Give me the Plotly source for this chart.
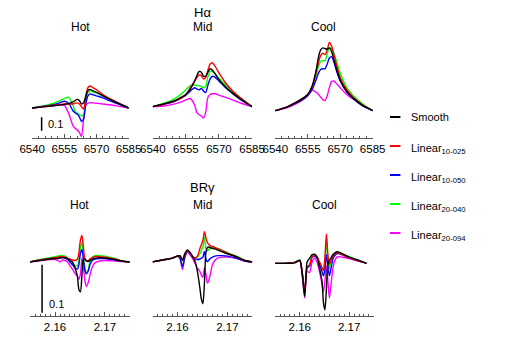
import plotly.graph_objects as go

# wavelength grids (Angstrom for H-alpha, micron for Br-gamma)
HA_X = [6540, 6545, 6550, 6553, 6555, 6557, 6559, 6560, 6561, 6562, 6563,
        6564, 6565, 6566, 6567, 6568, 6570, 6573, 6576, 6580, 6585]
BR_X = [2.155, 2.157, 2.159, 2.160, 2.1605, 2.161, 2.1615, 2.162, 2.1625,
        2.163, 2.1635, 2.164, 2.1645, 2.1648, 2.1651, 2.1654, 2.1657, 2.166,
        2.1663, 2.1667, 2.167, 2.1675, 2.168, 2.169, 2.170, 2.172, 2.1735, 2.175]

# H-alpha, relative flux (continuum = 0)
HA_HOT_SMOOTH = [0, 0.008, 0.017, 0.023, 0.027, 0.032, 0.045, 0.055, 0.064, 0.055, 0.03,
                 0.04, 0.085, 0.13, 0.138, 0.13, 0.115, 0.09, 0.065, 0.035, 0]
HA_HOT_L1025 = [0, 0.01, 0.02, 0.027, 0.03, 0.03, 0.03, 0.035, 0.038, 0.03, 0.01,
                -0.008, 0.09, 0.15, 0.163, 0.155, 0.135, 0.1, 0.072, 0.04, 0]
HA_HOT_L1050 = [0, 0.012, 0.025, 0.04, 0.05, 0.035, -0.02, -0.035, -0.045, -0.065, -0.1,
                -0.08, 0.03, 0.09, 0.104, 0.1, 0.09, 0.075, 0.055, 0.03, 0]
HA_HOT_L2040 = [0, 0.015, 0.035, 0.055, 0.07, 0.08, 0.02, -0.025, -0.04, -0.05, -0.058,
                -0.05, 0.06, 0.115, 0.128, 0.122, 0.112, 0.09, 0.068, 0.038, 0]
HA_HOT_L2094 = [0, 0.008, 0.018, 0.022, 0.02, -0.04, -0.13, -0.15, -0.162, -0.18, -0.21,
                -0.08, 0.02, 0.035, 0.04, 0.038, 0.035, 0.03, 0.024, 0.014, 0]

HA_MID_SMOOTH = [0.01, 0.03, 0.055, 0.08, 0.1, 0.14, 0.2, 0.24, 0.27, 0.265, 0.235,
                 0.235, 0.265, 0.29, 0.28, 0.26, 0.21, 0.155, 0.112, 0.063, 0.01]
HA_MID_L1025 = [0.01, 0.028, 0.052, 0.075, 0.1, 0.15, 0.2, 0.225, 0.245, 0.24, 0.215,
                0.225, 0.28, 0.325, 0.335, 0.315, 0.26, 0.185, 0.13, 0.072, 0.01]
HA_MID_L1050 = [0.01, 0.028, 0.05, 0.075, 0.095, 0.125, 0.15, 0.14, 0.135, 0.145, 0.125,
                0.115, 0.17, 0.215, 0.235, 0.23, 0.2, 0.15, 0.11, 0.06, 0.01]
HA_MID_L2040 = [0.01, 0.035, 0.07, 0.105, 0.135, 0.165, 0.17, 0.165, 0.165, 0.16, 0.15,
                0.16, 0.23, 0.27, 0.27, 0.255, 0.22, 0.17, 0.125, 0.072, 0.01]
HA_MID_L2094 = [0.01, 0.015, 0.03, 0.045, 0.06, 0.07, 0.02, -0.035, -0.05, -0.058, -0.075,
                -0.03, 0.08, 0.1, 0.105, 0.105, 0.095, 0.078, 0.06, 0.035, 0.01]

HA_COOL_SMOOTH = [-0.02, 0.005, 0.045, 0.075, 0.1, 0.16, 0.29, 0.38, 0.43, 0.445, 0.44,
                  0.435, 0.445, 0.42, 0.36, 0.305, 0.207, 0.122, 0.073, 0.023, -0.02]
HA_COOL_L1025 = [-0.02, 0.005, 0.045, 0.075, 0.1, 0.155, 0.27, 0.34, 0.39, 0.405, 0.395,
                 0.43, 0.485, 0.46, 0.4, 0.335, 0.225, 0.135, 0.08, 0.028, -0.02]
HA_COOL_L1050 = [-0.02, 0.005, 0.04, 0.065, 0.09, 0.135, 0.215, 0.26, 0.285, 0.29, 0.29,
                 0.325, 0.37, 0.38, 0.345, 0.29, 0.2, 0.12, 0.07, 0.02, -0.02]
HA_COOL_L2040 = [-0.02, 0.005, 0.045, 0.075, 0.1, 0.155, 0.25, 0.31, 0.345, 0.35, 0.35,
                 0.4, 0.445, 0.44, 0.41, 0.36, 0.26, 0.15, 0.09, 0.035, -0.02]
HA_COOL_L2094 = [-0.02, 0.0, 0.035, 0.065, 0.1, 0.13, 0.115, 0.1, 0.08, 0.062, 0.055,
                 0.09, 0.15, 0.195, 0.2, 0.185, 0.15, 0.1, 0.065, 0.025, -0.02]

# Br-gamma, relative flux
BR_HOT_SMOOTH = [0, 0.003, 0.006, 0.007, 0.007, 0.008, 0.009, 0.009, 0.007, 0.003, 0.0,
                 -0.012, -0.03, -0.058, -0.062, -0.027, 0.005, 0.006, 0.002, 0.001, 0.003,
                 0.006, 0.008, 0.009, 0.008, 0.005, 0.002, 0]
BR_HOT_L1025 = [0, 0.004, 0.007, 0.009, 0.01, 0.011, 0.011, 0.01, 0.008, 0.006, 0.004,
                0.003, 0.006, 0.02, 0.045, 0.055, 0.03, 0.006, 0.002, 0.003, 0.006,
                0.009, 0.011, 0.011, 0.01, 0.006, 0.002, 0]
BR_HOT_L1050 = [0, 0.004, 0.007, 0.008, 0.008, 0.009, 0.009, 0.008, 0.005, 0.0, -0.006,
                -0.012, -0.015, -0.005, 0.018, 0.026, 0.005, -0.018, -0.025, -0.018, -0.006,
                0.003, 0.006, 0.007, 0.007, 0.004, 0.001, 0]
BR_HOT_L2040 = [0, 0.005, 0.009, 0.011, 0.012, 0.013, 0.013, 0.012, 0.008, 0.002, -0.004,
                -0.008, -0.008, 0.005, 0.03, 0.04, 0.015, -0.012, -0.023, -0.015, 0.0,
                0.01, 0.013, 0.013, 0.012, 0.007, 0.002, 0]
BR_HOT_L2094 = [0, 0.003, 0.005, 0.005, 0.003, 0.0, 0.004, 0.003, 0.0, -0.008, -0.015,
                -0.024, -0.03, -0.036, -0.025, 0.008, -0.01, -0.04, -0.051, -0.042, -0.028,
                -0.01, -0.002, 0.002, 0.003, 0.002, 0.001, 0]

BR_MID_SMOOTH = [0, 0.004, 0.008, 0.012, 0.013, 0.004, 0.018, 0.025, 0.02, 0.011, 0.002,
                 -0.02, -0.055, -0.078, -0.087, -0.045, 0.02, 0.03, 0.031, 0.029, 0.028,
                 0.027, 0.025, 0.021, 0.017, 0.01, 0.003, 0.0]
BR_MID_L1025 = [0, 0.004, 0.008, 0.012, 0.012, 0.003, 0.017, 0.024, 0.019, 0.012, 0.008,
                0.012, 0.028, 0.036, 0.045, 0.063, 0.05, 0.04, 0.036, 0.033, 0.032,
                0.03, 0.028, 0.023, 0.018, 0.01, 0.003, 0.0]
BR_MID_L1050 = [0, 0.004, 0.008, 0.012, 0.008, -0.01, 0.012, 0.023, 0.019, 0.011, 0.007,
                0.005, 0.006, 0.008, 0.01, 0.022, 0.006, 0.0, 0.004, 0.008, 0.01,
                0.012, 0.013, 0.013, 0.012, 0.007, 0.002, 0.0]
BR_MID_L2040 = [0, 0.004, 0.008, 0.012, 0.008, -0.01, 0.012, 0.023, 0.019, 0.012, 0.008,
                0.01, 0.017, 0.024, 0.032, 0.052, 0.028, 0.023, 0.026, 0.029, 0.03,
                0.029, 0.028, 0.024, 0.019, 0.011, 0.003, 0.0]
BR_MID_L2094 = [0, 0.004, 0.008, 0.012, 0.006, -0.016, 0.01, 0.02, 0.015, 0.008, -0.003,
                -0.013, -0.02, -0.028, -0.032, -0.012, -0.025, -0.044, -0.038, -0.02, -0.006,
                0.003, 0.008, 0.01, 0.01, 0.007, 0.002, 0.0]

BR_COOL_SMOOTH = [-0.003, -0.003, -0.002, 0.003, -0.025, -0.072, 0.0, 0.008, 0.015, 0.016, 0.01,
                  -0.013, -0.04, -0.085, -0.1, -0.055, -0.005, 0.004, 0.008, 0.015, 0.018,
                  0.021, 0.02, 0.015, 0.01, 0.003, -0.003, None]
BR_COOL_L1025 = [-0.003, -0.003, -0.001, 0.003, -0.022, -0.065, -0.01, -0.006, 0.011, 0.013, 0.01,
                 0.0, -0.012, -0.018, 0.01, 0.058, 0.015, -0.005, 0.003, 0.012, 0.016,
                 0.019, 0.018, 0.013, 0.009, 0.002, -0.003, None]
BR_COOL_L1050 = [-0.003, -0.003, -0.001, 0.003, -0.022, -0.065, -0.012, -0.008, 0.01, 0.012, 0.008,
                 -0.005, -0.02, -0.029, -0.015, 0.015, -0.01, -0.029, -0.015, 0.005, 0.012,
                 0.017, 0.017, 0.013, 0.009, 0.002, -0.003, None]
BR_COOL_L2040 = [-0.003, -0.003, -0.001, 0.004, -0.022, -0.065, -0.012, -0.008, 0.011, 0.013, 0.01,
                 -0.002, -0.012, -0.017, 0.005, 0.04, 0.005, -0.014, -0.002, 0.01, 0.016,
                 0.02, 0.02, 0.015, 0.011, 0.003, -0.003, None]
BR_COOL_L2094 = [-0.003, -0.003, -0.001, 0.002, -0.028, -0.075, -0.02, -0.022, 0.0, 0.008, 0.0,
                 -0.02, -0.045, -0.062, -0.04, -0.008, -0.04, -0.075, -0.05, -0.015, 0.0,
                 0.01, 0.011, 0.009, 0.007, 0.001, -0.003, None]

SERIES = ["Smooth", "Linear<sub>10-025</sub>", "Linear<sub>10-050</sub>",
          "Linear<sub>20-040</sub>", "Linear<sub>20-094</sub>"]
COLORS = ["#000000", "#ff0000", "#0000ff", "#00ff00", "#ff00ff"]

PANELS = [
    ("Hot", HA_X, [HA_HOT_SMOOTH, HA_HOT_L1025, HA_HOT_L1050, HA_HOT_L2040, HA_HOT_L2094]),
    ("Mid", HA_X, [HA_MID_SMOOTH, HA_MID_L1025, HA_MID_L1050, HA_MID_L2040, HA_MID_L2094]),
    ("Cool", HA_X, [HA_COOL_SMOOTH, HA_COOL_L1025, HA_COOL_L1050, HA_COOL_L2040, HA_COOL_L2094]),
    ("Hot", BR_X, [BR_HOT_SMOOTH, BR_HOT_L1025, BR_HOT_L1050, BR_HOT_L2040, BR_HOT_L2094]),
    ("Mid", BR_X, [BR_MID_SMOOTH, BR_MID_L1025, BR_MID_L1050, BR_MID_L2040, BR_MID_L2094]),
    ("Cool", BR_X, [BR_COOL_SMOOTH, BR_COOL_L1025, BR_COOL_L1050, BR_COOL_L2040, BR_COOL_L2094]),
]

W, H = 515, 354
FONT = "Liberation Sans"
AX = "#555555"

# panel placement in pixels
X_PX = [(20, 122), (147, 252), (276, 379), (18, 123), (147, 252), (276, 380)]
Y_PX_TOP = (138, 35)
Y_PX_BOT = (316, 222)


def px_x(p):
    return p / W


def px_y(p):
    return 1 - p / H


fig = go.Figure()
layout = {}

for i, (name, xs, series) in enumerate(PANELS):
    n = i + 1
    top = i < 3
    # black drawn last so it sits on top
    for k in reversed(range(5)):
        fig.add_trace(go.Scatter(
            x=xs, y=series[k], mode="lines",
            line=dict(color=COLORS[k], width=1.4, shape="spline", smoothing=0.7),
            name=SERIES[k], showlegend=False,
            xaxis=f"x{n}", yaxis=f"y{n}",
            hovertemplate="%{x}<br>%{y:.3f}<extra>" + SERIES[k] + "</extra>",
        ))

    x0, x1 = X_PX[i]
    yb, yt = Y_PX_TOP if top else Y_PX_BOT
    xa = dict(
        domain=[px_x(x0), px_x(x1)], anchor=f"y{n}",
        showline=True, linecolor=AX, linewidth=1,
        showgrid=False, zeroline=False,
        ticks="inside", ticklen=4, tickcolor=AX,
        tickfont=dict(family=FONT, size=11.5, color="black"),
    )
    if top:
        xa.update(range=[6539.9, 6585.1], tick0=6540, dtick=15,
                  minor=dict(dtick=3, ticks="inside", ticklen=2, tickcolor=AX))
        yr = [-0.222, 0.54]
    else:
        xa.update(range=[2.155, 2.175], tick0=2.16, dtick=0.01, tickformat=".2f",
                  minor=dict(dtick=0.001, ticks="inside", ticklen=2, tickcolor=AX))
        yr = [-0.1125, 0.083]
    layout[f"xaxis{n}"] = xa
    layout[f"yaxis{n}"] = dict(domain=[px_y(yb), px_y(yt)], anchor=f"x{n}",
                               range=yr, visible=False)

# scale bars
shapes = [
    dict(type="line", xref="x1", yref="y1", x0=6544.4, x1=6544.4, y0=-0.068, y1=-0.168,
         line=dict(color="black", width=1.5)),
    dict(type="line", xref="x4", yref="y4", x0=2.1574, x1=2.1574, y0=-0.006, y1=-0.106,
         line=dict(color="black", width=1.5)),
]
annotations = [
    dict(text="0.1", xref="x1", yref="y1", x=6546.3, y=-0.118, xanchor="left",
         yanchor="middle", showarrow=False, font=dict(family=FONT, size=11, color="black")),
    dict(text="0.1", xref="x4", yref="y4", x=2.1583, y=-0.0875, xanchor="left",
         yanchor="middle", showarrow=False, font=dict(family=FONT, size=11, color="black")),
]

# titles
for text, x, y in [("H\u03b1", 199.5, 12), ("BR\u03b3", 199.5, 187)]:
    annotations.append(dict(text=text, xref="paper", yref="paper", x=px_x(x), y=px_y(y),
                            xanchor="center", yanchor="middle", showarrow=False,
                            font=dict(family=FONT, size=13, color="black")))
for i, (name, _, _) in enumerate(PANELS):
    x0, x1 = X_PX[i]
    y = 27 if i < 3 else 205
    annotations.append(dict(text=name, xref="paper", yref="paper", x=px_x((x0 + x1) / 2),
                            y=px_y(y), xanchor="center", yanchor="middle", showarrow=False,
                            font=dict(family=FONT, size=12, color="black")))

# legend drawn by hand for even spacing
for k, ly in enumerate([117, 146, 175, 204, 233]):
    shapes.append(dict(type="line", xref="paper", yref="paper",
                       x0=px_x(397), x1=px_x(408), y0=px_y(ly), y1=px_y(ly),
                       line=dict(color=COLORS[k], width=2)))
    annotations.append(dict(text=SERIES[k], xref="paper", yref="paper", x=px_x(417),
                            y=px_y(ly), xanchor="left", yanchor="middle",
                            yshift=-3 if k else 0, showarrow=False,
                            font=dict(family=FONT, size=11, color="black")))

fig.update_layout(
    width=W, height=H,
    margin=dict(l=0, r=0, t=0, b=0),
    paper_bgcolor="white", plot_bgcolor="white",
    shapes=shapes, annotations=annotations,
    showlegend=False,
    **layout,
)

fig.write_html("out.html", config={"displayModeBar": False},
               post_script="document.body.style.margin='0';")
